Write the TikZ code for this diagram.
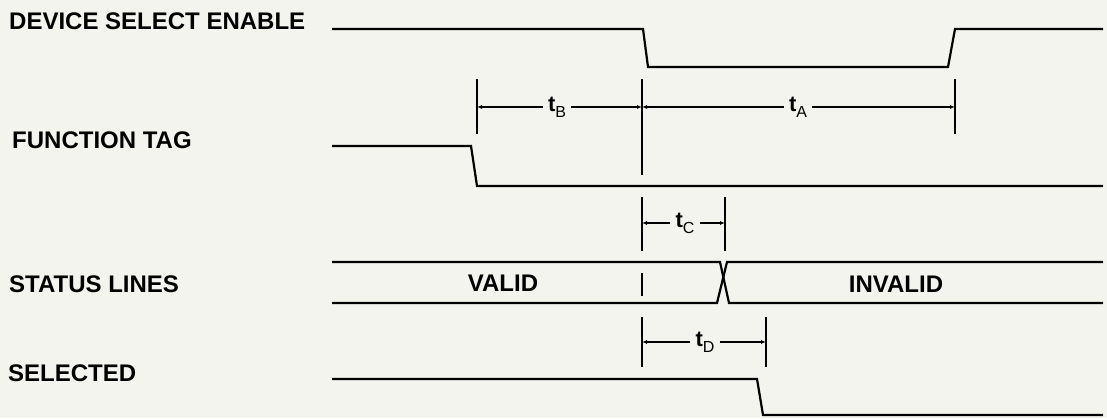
\documentclass[tikz,border=0pt]{standalone}
\usepackage{fontspec}
\setmainfont{Liberation Sans}
\usepackage{tikz}
\usetikzlibrary{arrows.meta}
\usepackage{xcolor}
\definecolor{carta}{RGB}{244,244,238}
\newcommand{\tempo}[1]{t\raisebox{-0.5ex}{\fontsize{16}{16}\selectfont\mdseries #1}}

\begin{document}
\begin{tikzpicture}[x = 1pt, y = -1pt,
    segnale/.style = {line width = 2.2pt, line join = miter},
    riferimento/.style = {line width = 1.4pt},
    quota/.style = {line width = 1.1pt, -{Latex[length = 5pt, width = 4pt]}},
    nome/.style = {font = \fontsize{24}{24}\selectfont\bfseries, anchor = base west, inner sep = 0pt},
    stato/.style = {font = \fontsize{24}{24}\selectfont\bfseries, anchor = base, inner sep = 0pt},
    etichetta/.style = {font = \fontsize{22}{22}\selectfont\bfseries, inner xsep = 5pt, inner ysep = 0pt}]
    % Parametri
    \pgfmathsetmacro{\xsx}{332}
    \pgfmathsetmacro{\xdx}{1103}
    \pgfmathsetmacro{\xzero}{642}
    % Sfondo
    \fill[carta] (0,0) rectangle (1107,418);
    % Nomi dei segnali
    \node[nome] (nomeDSE) at (9,29) {DEVICE SELECT ENABLE};
    \node[nome] (nomeFT) at (12,148) {FUNCTION TAG};
    \node[nome] (nomeSL) at (9,292) {STATUS LINES};
    \node[nome] (nomeSEL) at (8,381) {SELECTED};
    % Punti d'interesse
    \coordinate (d1) at (\xsx,29);
    \coordinate (d2) at (643,29);
    \coordinate (d3) at (648,67);
    \coordinate (d4) at (948,67);
    \coordinate (d5) at (955,29);
    \coordinate (d6) at (\xdx,29);
    \coordinate (f1) at (\xsx,146);
    \coordinate (f2) at (471,146);
    \coordinate (f3) at (477,186);
    \coordinate (f4) at (\xdx,186);
    \coordinate (s1) at (\xsx,262);
    \coordinate (s2) at (720,262);
    \coordinate (s3) at (729,303);
    \coordinate (s4) at (\xdx,303);
    \coordinate (s5) at (\xsx,303);
    \coordinate (s6) at (717,303);
    \coordinate (s7) at (727,262);
    \coordinate (s8) at (\xdx,262);
    \coordinate (e1) at (\xsx,379);
    \coordinate (e2) at (757,379);
    \coordinate (e3) at (763,415);
    \coordinate (e4) at (\xdx,415);
    % Disegno i segnali
    \draw[segnale] (d1) -- (d2) -- (d3) -- (d4) -- (d5) -- (d6);
    \draw[segnale] (f1) -- (f2) -- (f3) -- (f4);
    \draw[segnale] (s1) -- (s2) -- (s3) -- (s4);
    \draw[segnale] (s5) -- (s6) -- (s7) -- (s8);
    \draw[segnale] (e1) -- (e2) -- (e3) -- (e4);
    \node[stato] (valido) at (503,291) {VALID};
    \node[stato] (nonvalido) at (896,292) {INVALID};
    % Linee di riferimento
    \coordinate (rB1) at (477,79);
    \coordinate (rB2) at (477,134);
    \coordinate (r01) at (\xzero,79);
    \coordinate (r02) at (\xzero,175);
    \coordinate (rA1) at (955,79);
    \coordinate (rA2) at (955,134);
    \coordinate (rC1) at (\xzero,197);
    \coordinate (rC2) at (\xzero,251);
    \coordinate (rC3) at (725,197);
    \coordinate (rC4) at (725,251);
    \coordinate (rS1) at (\xzero,273);
    \coordinate (rS2) at (\xzero,296);
    \coordinate (rD1) at (\xzero,317);
    \coordinate (rD2) at (\xzero,367);
    \coordinate (rD3) at (766,317);
    \coordinate (rD4) at (766,367);
    \draw[riferimento] (rB1) -- (rB2);
    \draw[riferimento] (r01) -- (r02);
    \draw[riferimento] (rA1) -- (rA2);
    \draw[riferimento] (rC1) -- (rC2);
    \draw[riferimento] (rC3) -- (rC4);
    \draw[riferimento] (rS1) -- (rS2);
    \draw[riferimento] (rD1) -- (rD2);
    \draw[riferimento] (rD3) -- (rD4);
    % Quote dei tempi
    \node[etichetta] (tB) at (557,107) {\tempo{B}};
    \node[etichetta] (tA) at (798,107) {\tempo{A}};
    \node[etichetta] (tC) at (685,223) {\tempo{C}};
    \node[etichetta] (tD) at (705,342) {\tempo{D}};
    \draw[quota] (tB) -- (477,107);
    \draw[quota] (tB) -- (\xzero,107);
    \draw[quota] (tA) -- (\xzero,107);
    \draw[quota] (tA) -- (955,107);
    \draw[quota] (tC) -- (\xzero,223);
    \draw[quota] (tC) -- (725,223);
    \draw[quota] (tD) -- (\xzero,342);
    \draw[quota] (tD) -- (766,342);
\end{tikzpicture}
\end{document}
